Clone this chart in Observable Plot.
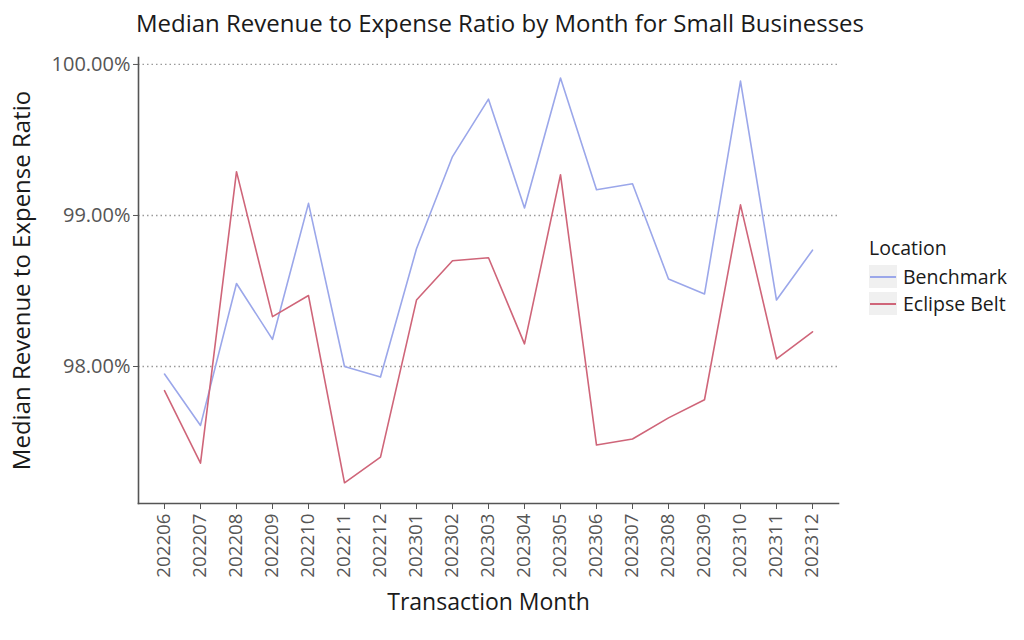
<!DOCTYPE html>
<html>
<head>
<meta charset="utf-8">
<script src="https://cdn.jsdelivr.net/npm/d3@7"></script>
<script src="https://cdn.jsdelivr.net/npm/@observablehq/plot@0.6"></script>
<style>
  body { margin: 0; background: #fff; font-family: "Open Sans", Lato, sans-serif; }
  #wrap { position: relative; width: 1024px; height: 640px; overflow: hidden; }
  #title { height: 45px; line-height: 45px; width: 1000px; text-align: center; font-size: 24px; color: #1a1a1a; }
  #legend { position: absolute; left: 869px; top: 234px; font-size: 19.5px; color: #1a1a1a; }
  #legend .ttl { height: 28px; line-height: 28px; }
  #legend .row { display: flex; align-items: center; height: 25px; margin-top: 2px; }
  #legend .key { width: 28px; height: 23px; background: #f0f0f0; position: relative; margin-right: 6px; }
  #legend .key span { position: absolute; left: 1px; right: 1px; top: 11px; height: 2px; }
</style>
</head>
<body>
<div id="wrap">
  <div id="title">Median Revenue to Expense Ratio by Month for Small Businesses</div>
  <div id="chart"></div>
  <div id="legend"></div>
</div>
<script>
const months = ["202206","202207","202208","202209","202210","202211","202212","202301","202302","202303","202304","202305","202306","202307","202308","202309","202310","202311","202312"];
const benchmark = [97.95, 97.61, 98.55, 98.18, 99.08, 98.00, 97.93, 98.78, 99.39, 99.77, 99.05, 99.91, 99.17, 99.21, 98.58, 98.48, 99.89, 98.44, 98.77];
const eclipseBelt = [97.84, 97.36, 99.29, 98.33, 98.47, 97.23, 97.40, 98.44, 98.70, 98.72, 98.15, 99.27, 97.48, 97.52, 97.66, 97.78, 99.07, 98.05, 98.23];
const seriesNames = ["Benchmark", "Eclipse Belt"];
const seriesColors = ["#9ba7ea", "#cf6579"];
const yTicks = [98, 99, 100];

const data = [];
months.forEach((m, i) => {
  data.push({month: m, value: benchmark[i], location: seriesNames[0]});
  data.push({month: m, value: eclipseBelt[i], location: seriesNames[1]});
});

const yDomain = [97.093, 100.046];
const axisColor = "#555";

const chart = Plot.plot({
  width: 1024,
  height: 595,
  marginTop: 12,
  marginLeft: 138,
  marginRight: 186,
  marginBottom: 137,
  style: {fontFamily: "'Open Sans', Lato, sans-serif", background: "#fff"},
  x: {type: "point", domain: months, padding: 0.6, label: null},
  y: {domain: yDomain, label: null},
  color: {domain: seriesNames, range: seriesColors},
  marks: [
    Plot.ruleY(yTicks, {stroke: "#9a9a9a", strokeDasharray: "1.5,3", strokeWidth: 1.3}),
    Plot.frame({anchor: "left", stroke: axisColor, strokeWidth: 1.6}),
    Plot.frame({anchor: "bottom", stroke: axisColor, strokeWidth: 1.6}),
    Plot.axisY(yTicks, {tickSize: 5, tickPadding: 3, fontSize: 20, color: axisColor, tickFormat: d => d.toFixed(2) + "%", label: null}),
    Plot.axisX({tickSize: 6, tickPadding: 4, tickRotate: -90, fontSize: 18.7, color: axisColor, label: null}),
    Plot.lineY(data, {x: "month", y: "value", z: "location", stroke: "location", strokeWidth: 1.6}),
    Plot.text(["Median Revenue to Expense Ratio"], {frameAnchor: "left", dx: -116, rotate: -90, textAnchor: "middle", fontSize: 24, fill: "#1a1a1a", text: d => d}),
    Plot.text(["Transaction Month"], {frameAnchor: "bottom", dy: 106, textAnchor: "middle", fontSize: 23, fill: "#1a1a1a", text: d => d})
  ]
});
document.getElementById("chart").appendChild(chart);

const legend = document.getElementById("legend");
let html = '<div class="ttl">Location</div>';
seriesNames.forEach((n, i) => {
  html += `<div class="row"><div class="key"><span style="background:${seriesColors[i]}"></span></div><div>${n}</div></div>`;
});
legend.innerHTML = html;
</script>
</body>
</html>
